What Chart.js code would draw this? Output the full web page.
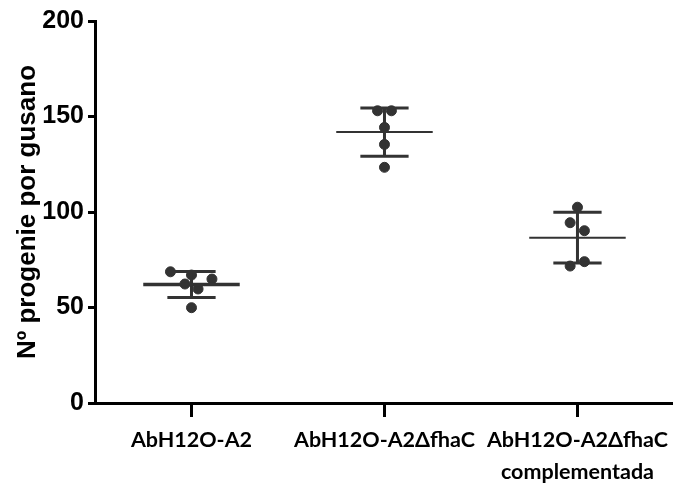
<!DOCTYPE html>
<html>
<head>
<meta charset="utf-8">
<script src="https://cdn.jsdelivr.net/npm/chart.js@4.4.0/dist/chart.umd.min.js"></script>
<style>
  html, body { margin: 0; padding: 0; background: #fff; }
  #wrap { width: 673px; height: 486px; position: relative; }
</style>
</head>
<body>
<div id="wrap"><canvas id="c"></canvas></div>
<script>
// datos
const categories = [['AbH12O-A2'], ['AbH12O-A2\u0394fhaC'], ['AbH12O-A2\u0394fhaC', 'complementada']];
const grupo1 = [68.7, 67.0, 64.9, 62.3, 59.7, 49.9];
const grupo2 = [153.0, 153.0, 144.3, 135.4, 123.4];
const grupo3 = [102.5, 94.4, 90.2, 71.7, 74.0];
// desplazamiento horizontal de cada punto (unidades de categoría)
const jitter1 = [-0.109, 0, 0.106, -0.034, 0.034, 0];
const jitter2 = [-0.036, 0.036, 0, 0, 0];
const jitter3 = [0, -0.038, 0.036, -0.038, 0.036];
const yTicks = [0, 50, 100, 150, 200];

const grupos = [grupo1, grupo2, grupo3];
const jitters = [jitter1, jitter2, jitter3];
const color = '#333333';

function media(a) { return a.reduce((s, v) => s + v, 0) / a.length; }
function sd(a) {
    const m = media(a);
    return Math.sqrt(a.reduce((s, v) => s + (v - m) * (v - m), 0) / (a.length - 1));
}

const datasets = [];
grupos.forEach((g, i) => {
    const m = media(g), s = sd(g);
    // línea de la media
    datasets.push({
        type: 'line',
        data: [{ x: i - 0.25, y: m }, { x: i + 0.25, y: m }],
        borderColor: color,
        borderWidth: i === 0 ? 3.5 : 2,
        pointRadius: 0,
        fill: false
    });
    // barras de error (media ± DE)
    datasets.push({
        type: 'line',
        data: [
            { x: i - 0.125, y: m + s }, { x: i + 0.125, y: m + s }, { x: i, y: null },
            { x: i, y: m + s }, { x: i, y: m - s }, { x: i, y: null },
            { x: i - 0.125, y: m - s }, { x: i + 0.125, y: m - s }
        ],
        borderColor: color,
        borderWidth: 3,
        pointRadius: 0,
        spanGaps: false,
        fill: false
    });
    // puntos
    datasets.push({
        type: 'scatter',
        data: g.map((v, k) => ({ x: i + jitters[i][k], y: v })),
        backgroundColor: color,
        borderColor: color,
        pointRadius: 5,
        pointHoverRadius: 5
    });
});

new Chart(document.getElementById('c'), {
    type: 'scatter',
    data: { datasets },
    options: {
        responsive: true,
        maintainAspectRatio: false,
        animation: false,
        layout: { autoPadding: false, padding: { top: 21, right: 0, bottom: 0, left: 0 } },
        plugins: { legend: { display: false }, tooltip: { enabled: false } },
        scales: {
            x: {
                type: 'linear',
                min: -0.5,
                max: 2.495,
                afterBuildTicks: s => { s.ticks = categories.map((c, i) => ({ value: i })); },
                afterFit: s => { s.height = 83; s.paddingRight = 0; s.paddingLeft = 0; },
                border: { display: true, color: '#000', width: 3 },
                grid: { display: true, drawOnChartArea: false, tickLength: 14, tickWidth: 3, tickColor: '#000' },
                ticks: {
                    color: '#000',
                    padding: 7,
                    maxRotation: 0,
                    autoSkip: false,
                    font: { family: 'Lato', weight: 'bold', size: 21.5, lineHeight: 1.5 },
                    callback: v => categories[v]
                }
            },
            y: {
                min: 0,
                max: 200,
                afterBuildTicks: s => { s.ticks = yTicks.map(v => ({ value: v })); },
                afterFit: s => { s.width = 95; },
                border: { display: true, color: '#000', width: 3 },
                grid: { display: true, drawOnChartArea: false, tickLength: 7, tickWidth: 3, tickColor: '#000' },
                ticks: {
                    color: '#000',
                    padding: 4,
                    font: { family: 'Liberation Sans', weight: 'bold', size: 25 }
                },
                title: {
                    display: true,
                    text: 'Nº progenie por gusano',
                    color: '#000',
                    padding: { top: 12, bottom: 0 },
                    font: { family: 'Liberation Sans', weight: 'bold', size: 26 }
                }
            }
        }
    }
});
</script>
</body>
</html>
